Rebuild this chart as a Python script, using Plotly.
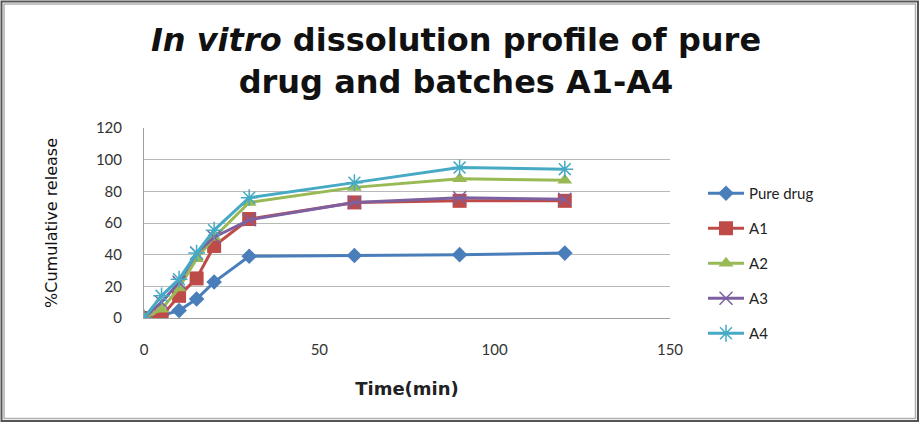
import plotly.graph_objects as go

time_min = [0, 5, 10, 15, 20, 30, 60, 90, 120]
pure_drug = [0, 1.5, 4.7, 12, 22.7, 39, 39.5, 40, 41]
a1 = [0, 1, 14, 25, 45.5, 62.5, 73, 74, 74]
a2 = [0, 5.5, 19, 37.5, 51, 73, 82.5, 88, 87]
a3 = [0, 10, 22.5, 41, 51, 62, 73, 76, 75]
a4 = [0, 14, 24.5, 41, 55.5, 76, 85.5, 95, 94]

series_names = ["Pure drug", "A1", "A2", "A3", "A4"]
series_values = [pure_drug, a1, a2, a3, a4]
colors = ["#4A7EBB", "#BE4B48", "#98B954", "#7D60A0", "#46AAC5"]
symbols = ["diamond", "square", "triangle-up", "x-thin-open", "asterisk-open"]
msizes = [12, 14, 13, 13, 14]

W, H = 924, 432
L, R, T, B = 144, 254, 128, 114
pw, ph = W - L - R, H - T - B

def px(x):
    return (x - L) / pw

def py(y):
    return (H - B - y) / ph

fig = go.Figure()
for i, (name, vals) in enumerate(zip(series_names, series_values)):
    open_sym = symbols[i].endswith("open")
    fig.add_trace(go.Scatter(
        x=time_min, y=vals, name=name, mode="lines+markers",
        legendgroup=name,
        line=dict(color=colors[i], width=3),
        marker=dict(symbol=symbols[i], size=msizes[i], color=colors[i],
                    line=dict(color=colors[i], width=1.5 if open_sym else 0)),
    ))

fig.update_layout(
    width=W, height=H,
    margin=dict(l=L, r=R, t=T, b=B),
    paper_bgcolor="white", plot_bgcolor="white",
    font=dict(family="Lato, 'Open Sans', sans-serif", color="#222", size=15),
    title=dict(
        text="<b><i>In vitro</i> dissolution profile of pure<br>drug and batches A1-A4</b>",
        x=456 / W, xanchor="center", y=1 - 51 / H, yanchor="middle",
        font=dict(family="'DejaVu Sans', sans-serif", size=32, color="#111"),
    ),
    xaxis=dict(range=[0, 150], tickvals=[0, 50, 100, 150], showgrid=False,
               showline=True, linecolor="#A0A0A0", linewidth=1, zeroline=False,
               ticks="", ticklabelstandoff=18,
               title=dict(text="<b>Time(min)</b>",
                          font=dict(family="'DejaVu Sans', sans-serif", size=18), standoff=25),
               tickfont=dict(size=15, color="#333")),
    yaxis=dict(range=[0, 120], tickvals=[0, 20, 40, 60, 80, 100, 120],
               showgrid=True, gridcolor="#B8B8B8", gridwidth=1,
               showline=True, linecolor="#A0A0A0", linewidth=1, zeroline=False,
               ticks="", ticklabelstandoff=18,
               title=dict(text="%Cumulative release",
                          font=dict(family="'DejaVu Sans', sans-serif", size=16, color="#111"),
                          standoff=34),
               tickfont=dict(size=15, color="#333")),
    legend=dict(x=px(703), y=py(177), xanchor="left", yanchor="top",
                tracegroupgap=12.5, font=dict(size=15, color="#222"),
                itemwidth=36, bgcolor="rgba(0,0,0,0)"),
    shapes=[
        dict(type="rect", xref="paper", yref="paper",
             x0=px(1.5), x1=px(918), y0=py(1.5), y1=py(421),
             line=dict(color="#555555", width=2)),
        dict(type="rect", xref="paper", yref="paper",
             x0=px(4), x1=px(915.5), y0=py(4), y1=py(418.5),
             line=dict(color="#B0B0B0", width=1.5)),
    ],
)

fig.write_html("out.html")
